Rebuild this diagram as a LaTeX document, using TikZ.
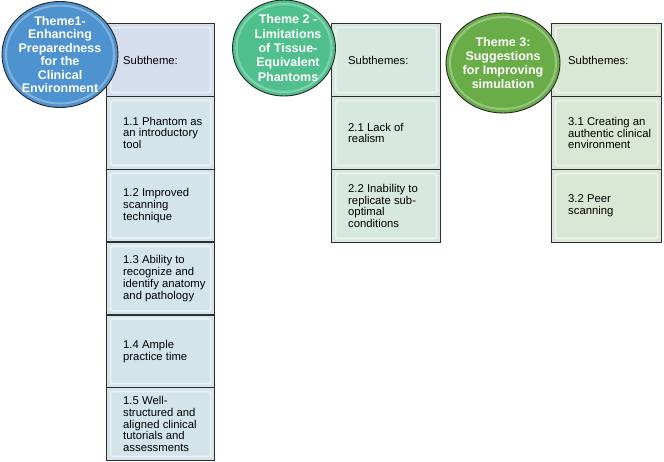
\documentclass[tikz,border=0pt]{standalone}
\usepackage{fontspec}
\setmainfont{Liberation Sans}
\usetikzlibrary{shapes.geometric}
\definecolor{boxblueA}{HTML}{D6DEEE}
\definecolor{boxblueB}{HTML}{D3E5EB}
\definecolor{boxteal}{HTML}{D6E8DF}
\definecolor{boxgreen}{HTML}{D9E7D4}
\definecolor{ellblue}{HTML}{4E93CF}
\definecolor{ellteal}{HTML}{4FC08D}
\definecolor{ellgreen}{HTML}{6AAD48}
\definecolor{edgegray}{HTML}{2E2E2E}
\tikzset{
  sbox/.style={rectangle, draw=edgegray, line width=1.3pt, anchor=north west, inner sep=0pt,
    path picture={\draw[white, opacity=.55, line width=1.6pt, rounded corners=2pt]
      ([shift={(4pt,-4pt)}]path picture bounding box.north west) rectangle
      ([shift={(-4pt,4pt)}]path picture bounding box.south east);}},
  col1/.style={sbox, minimum width=108pt, minimum height=72.8pt},
  col2/.style={sbox, minimum width=109pt, minimum height=72.8pt},
  col3/.style={sbox, minimum width=110pt, minimum height=72.8pt},
  stxt/.style={anchor=west, align=left, inner sep=0pt, font=\fontsize{11.3}{11.8}\selectfont, text=black},
  theme/.style={ellipse, draw=black!85, line width=0.9pt, inner sep=0pt,
    path picture={\draw[white, opacity=.3, line width=2pt]
      (path picture bounding box.center) ellipse [x radius=0.5*\pgfkeysvalueof{/pgf/minimum width}-4pt, y radius=0.5*\pgfkeysvalueof{/pgf/minimum height}-4pt];}},
  ttxt/.style={align=center, inner sep=0pt, text=white, font=\bfseries\fontsize{12.5}{13.4}\selectfont},
}
\begin{document}
\begin{tikzpicture}[x=1pt, y=-1pt]
\fill[white] (0,0) rectangle (664,461);
\useasboundingbox (0,0) rectangle (664,461);

% Column 1
\node[col1, fill=boxblueA] (c1s) at (106,23) {};
\node[col1, fill=boxblueB] (c11) at (106,95.8) {};
\node[col1, fill=boxblueB] (c12) at (106,168.6) {};
\node[col1, fill=boxblueB] (c13) at (106,241.4) {};
\node[col1, fill=boxblueB] (c14) at (106,314.2) {};
\node[col1, fill=boxblueB] (c15) at (106,387) {};
\node[stxt] (t1s) at ([xshift=17pt]c1s.west) {Subtheme:};
\node[stxt] (t11) at ([xshift=17pt]c11.west) {1.1 Phantom as\\an introductory\\tool};
\node[stxt] (t12) at ([xshift=17pt]c12.west) {1.2 Improved\\scanning\\technique};
\node[stxt] (t13) at ([xshift=17pt]c13.west) {1.3 Ability to\\recognize and\\identify anatomy\\and pathology};
\node[stxt] (t14) at ([xshift=17pt]c14.west) {1.4 Ample\\practice time};
\node[stxt] (t15) at ([xshift=17pt]c15.west) {1.5 Well-\\structured and\\aligned clinical\\tutorials and\\assessments};

% Column 2
\node[col2, fill=boxteal] (c2s) at (331,23) {};
\node[col2, fill=boxteal] (c21) at (331,96) {};
\node[col2, fill=boxteal] (c22) at (331,169) {};
\node[stxt] (t2s) at ([xshift=17pt]c2s.west) {Subthemes:};
\node[stxt] (t21) at ([xshift=17pt]c21.west) {2.1 Lack of\\realism};
\node[stxt] (t22) at ([xshift=17pt]c22.west) {2.2 Inability to\\replicate sub-\\optimal\\conditions};

% Column 3
\node[col3, fill=boxgreen] (c3s) at (551,23) {};
\node[col3, fill=boxgreen] (c31) at (551,96) {};
\node[col3, fill=boxgreen] (c32) at (551,169) {};
\node[stxt] (t3s) at ([xshift=17pt]c3s.west) {Subthemes:};
\node[stxt] (t31) at ([xshift=17pt]c31.west) {3.1 Creating an\\authentic clinical\\environment};
\node[stxt] (t32) at ([xshift=17pt]c32.west) {3.2 Peer\\scanning};

% Theme ellipses
\node[theme, fill=ellblue, minimum width=116pt, minimum height=106pt] (e1) at (60,54.5) {};
\node[ttxt] (e1t) at (e1.center) {Theme1-\\Enhancing\\Preparedness\\for the\\Clinical\\Environment};
\node[theme, fill=ellteal, minimum width=103pt, minimum height=96pt] (e2) at (284,48) {};
\node[ttxt, font=\bfseries\fontsize{12.5}{14.3}\selectfont] (e2t) at ([xshift=4pt]e2.center) {Theme 2 -\\Limitations\\of Tissue-\\Equivalent\\Phantoms};
\node[theme, fill=ellgreen, minimum width=114pt, minimum height=100pt] (e3) at (503,63) {};
\node[ttxt, font=\bfseries\fontsize{12.5}{14}\selectfont] (e3t) at (e3.center) {Theme 3:\\Suggestions\\for Improving\\simulation};
\end{tikzpicture}
\end{document}
